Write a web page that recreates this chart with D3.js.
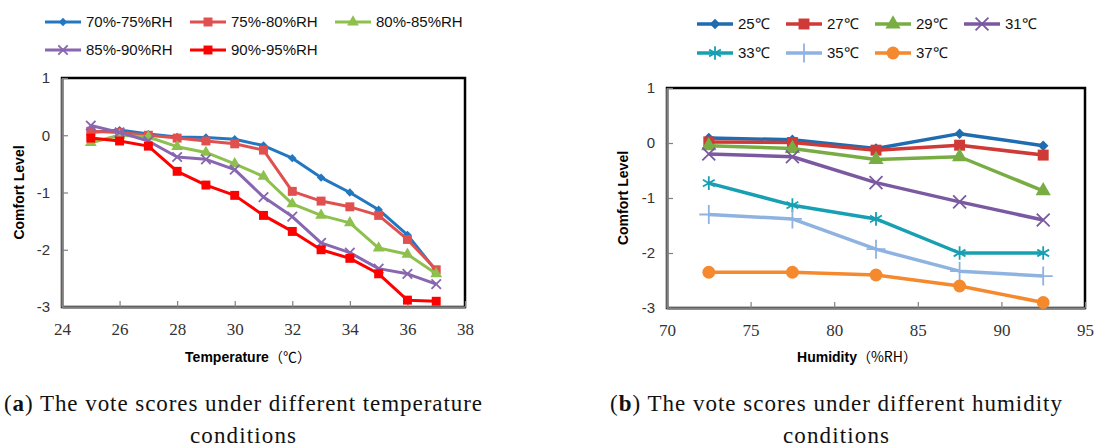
<!DOCTYPE html>
<html>
<head>
<meta charset="utf-8">
<script src="https://cdn.jsdelivr.net/npm/d3@7"></script>
<style>
  body { margin: 0; background: #fff; }
  svg { display: block; }
</style>
</head>
<body>
<div id="fig"></div>
<script>
// (a) comfort level vs temperature, one series per humidity band
const temps = [25, 26, 27, 28, 29, 30, 31, 32, 33, 34, 35, 36, 37];
const rhNames = ["70%-75%RH", "75%-80%RH", "80%-85%RH", "85%-90%RH", "90%-95%RH"];
const rh70_75 = [0.05, 0.09, 0.02, -0.03, -0.04, -0.07, -0.18, -0.40, -0.74, -1.00, -1.30, -1.74, -2.37];
const rh75_80 = [0.07, 0.05, 0.00, -0.05, -0.10, -0.15, -0.26, -0.98, -1.15, -1.25, -1.40, -1.82, -2.35];
const rh80_85 = [-0.13, 0.00, -0.03, -0.20, -0.30, -0.50, -0.72, -1.20, -1.40, -1.53, -1.97, -2.08, -2.42];
const rh85_90 = [0.17, 0.05, -0.10, -0.38, -0.42, -0.60, -1.08, -1.42, -1.88, -2.05, -2.33, -2.42, -2.60];
const rh90_95 = [-0.05, -0.10, -0.19, -0.63, -0.87, -1.05, -1.40, -1.68, -2.00, -2.15, -2.42, -2.88, -2.90];
const tempTicks = [24, 26, 28, 30, 32, 34, 36, 38];

// (b) comfort level vs humidity, one series per temperature
const humid = [72.5, 77.5, 82.5, 87.5, 92.5];
const tNames = ["25℃", "27℃", "29℃", "31℃", "33℃", "35℃", "37℃"];
const t25 = [0.09, 0.06, -0.10, 0.17, -0.05];
const t27 = [0.02, 0.01, -0.13, -0.04, -0.22];
const t29 = [-0.05, -0.10, -0.30, -0.25, -0.87];
const t31 = [-0.20, -0.25, -0.72, -1.07, -1.40];
const t33 = [-0.73, -1.13, -1.38, -2.00, -2.00];
const t35 = [-1.30, -1.38, -1.93, -2.33, -2.42];
const t37 = [-2.35, -2.35, -2.40, -2.60, -2.90];
const humTicks = [70, 75, 80, 85, 90, 95];

const levelTicks = [1, 0, -1, -2, -3];

const width = 1094, height = 448;

const svg = d3.select("#fig").append("svg")
    .attr("width", width)
    .attr("height", height);

const grey = "#808080";

function marker(g, type, color, size) {
    var sym, fill = color, stroke = "none", sw = 0;
    if (type == "diamond") sym = d3.symbolDiamond2;
    else if (type == "square") sym = d3.symbolSquare;
    else if (type == "triangle") sym = d3.symbolTriangle;
    else if (type == "circle") sym = d3.symbolCircle;
    else {
        fill = "none"; stroke = color; sw = 1.8;
        sym = type == "times" ? d3.symbolTimes : type == "plus" ? d3.symbolPlus : d3.symbolAsterisk;
    }
    return g.append("path")
        .attr("d", d3.symbol(sym, size)())
        .attr("fill", fill)
        .attr("stroke", stroke)
        .attr("stroke-width", sw);
}

function panel(opt) {
    const x = d3.scaleLinear().domain(opt.xDomain).range(opt.xRange);
    const y = d3.scaleLinear().domain([-3, 1]).range(opt.yRange);
    const g = svg.append("g");

    // plot area border (black top/right)
    g.append("rect")
        .attr("x", opt.xRange[0]).attr("y", opt.yRange[1])
        .attr("width", opt.xRange[1] - opt.xRange[0])
        .attr("height", opt.yRange[0] - opt.yRange[1])
        .attr("fill", "none")
        .attr("stroke", "#000")
        .attr("stroke-width", 2.5);

    // y axis, ticks pointing inward
    const ya = g.append("g")
        .attr("transform", `translate(${opt.xRange[0]},0)`)
        .call(d3.axisRight(y).tickValues(levelTicks).tickSize(6).tickSizeOuter(0).tickFormat(d3.format("d")));
    ya.select(".domain").attr("stroke", grey).attr("stroke-width", 2.5);
    ya.selectAll(".tick line").attr("stroke", grey).attr("stroke-width", 1.2);
    ya.selectAll(".tick text")
        .attr("x", -12).attr("text-anchor", "end")
        .attr("fill", "#333")
        .style("font", "15px 'Liberation Sans', sans-serif")
        .text(d => d < 0 ? "-" + (-d) : d);

    // x axis, ticks pointing inward
    const xa = g.append("g")
        .attr("transform", `translate(0,${opt.yRange[0]})`)
        .call(d3.axisTop(x).tickValues(opt.ticks).tickSize(6).tickSizeOuter(0));
    xa.select(".domain").attr("stroke", grey).attr("stroke-width", 2.5);
    xa.selectAll(".tick line").attr("stroke", grey).attr("stroke-width", 1.2);
    xa.selectAll(".tick text")
        .attr("y", 22).attr("dy", "0.35em")
        .attr("fill", "#333")
        .style("font", "17px 'Liberation Serif', serif");

    // lines + markers
    const line = d3.line().x(d => x(d[0])).y(d => y(d[1]));
    opt.series.forEach(function(s) {
        const pts = opt.xs.map((v, i) => [v, s.values[i]]);
        g.append("path")
            .datum(pts)
            .attr("d", line)
            .attr("fill", "none")
            .attr("stroke", s.color)
            .attr("stroke-width", opt.lineWidth)
            .attr("stroke-linejoin", "round");
        pts.forEach(function(p) {
            marker(g, s.marker, s.color, s.size)
                .attr("transform", `translate(${x(p[0])},${y(p[1])})`);
        });
    });

    // legend
    opt.series.forEach(function(s, i) {
        const col = i % opt.legendCols, row = Math.floor(i / opt.legendCols);
        const lx = opt.legendX + col * opt.legendDX, ly = opt.legendY + row * opt.legendDY;
        const lg = g.append("g").attr("transform", `translate(${lx},${ly})`);
        lg.append("line")
            .attr("x1", 0).attr("x2", 36)
            .attr("stroke", s.color)
            .attr("stroke-width", opt.lineWidth);
        marker(lg, s.marker, s.color, s.size).attr("transform", "translate(18,0)");
        lg.append("text")
            .attr("x", 41).attr("dy", "0.36em")
            .attr("fill", "#111")
            .style("font", "15px 'Liberation Sans', sans-serif")
            .text(s.name);
    });

    // axis titles
    const midY = (opt.yRange[0] + opt.yRange[1]) / 2;
    g.append("text")
        .attr("transform", `translate(${opt.yTitleX},${midY}) rotate(-90)`)
        .attr("text-anchor", "middle")
        .style("font", "bold 14px 'Liberation Sans', sans-serif")
        .text("Comfort Level");

    const xt = g.append("text")
        .attr("x", opt.xTitleX).attr("y", 362)
        .attr("text-anchor", "middle")
        .style("font", "bold 14px 'Liberation Sans', sans-serif");
    xt.append("tspan").text(opt.xTitle);
    xt.append("tspan").attr("font-weight", "normal")
        .style("font-family", "'Noto Sans CJK SC', sans-serif")
        .text(opt.xUnit);

    // caption (stretched to the wider book face of the original)
    const cap = g.append("text")
        .attr("x", opt.capX).attr("y", 411)
        .attr("text-anchor", "middle")
        .attr("textLength", opt.capWidth)
        .attr("lengthAdjust", "spacing")
        .style("font", "23px 'Liberation Serif', serif")
        .attr("fill", "#111");
    cap.append("tspan").text("(");
    cap.append("tspan").attr("font-weight", "bold").text(opt.capLetter);
    cap.append("tspan").text(") " + opt.capText);
    g.append("text")
        .attr("x", opt.capX).attr("y", 443)
        .attr("text-anchor", "middle")
        .attr("textLength", 106)
        .attr("lengthAdjust", "spacing")
        .style("font", "23px 'Liberation Serif', serif")
        .attr("fill", "#111")
        .text("conditions");
}

panel({
    xDomain: [24, 38], xRange: [62, 465], yRange: [307, 78],
    ticks: tempTicks, xs: temps, lineWidth: 3,
    series: [
        {name: rhNames[0], values: rh70_75, color: "#2277c0", marker: "diamond", size: 45},
        {name: rhNames[1], values: rh75_80, color: "#e0504e", marker: "square", size: 80},
        {name: rhNames[2], values: rh80_85, color: "#8dc04c", marker: "triangle", size: 60},
        {name: rhNames[3], values: rh85_90, color: "#8866b0", marker: "times", size: 60},
        {name: rhNames[4], values: rh90_95, color: "#ff0000", marker: "square", size: 80}
    ],
    legendX: 45, legendY: 22, legendCols: 3, legendDX: 145, legendDY: 28,
    yTitleX: 24, xTitleX: 248, xTitle: "Temperature", xUnit: "（℃）",
    capX: 243, capWidth: 478, capLetter: "a", capText: "The vote scores under different temperature"
});

panel({
    xDomain: [70, 95], xRange: [667, 1085], yRange: [308, 88],
    ticks: humTicks, xs: humid, lineWidth: 3.5,
    series: [
        {name: tNames[0], values: t25, color: "#1f6cb0", marker: "diamond", size: 70},
        {name: tNames[1], values: t27, color: "#cf3a36", marker: "square", size: 120},
        {name: tNames[2], values: t29, color: "#78ad43", marker: "triangle", size: 100},
        {name: tNames[3], values: t31, color: "#7b59a1", marker: "times", size: 110},
        {name: tNames[4], values: t33, color: "#17a0b2", marker: "asterisk", size: 130},
        {name: tNames[5], values: t35, color: "#8fb3e0", marker: "plus", size: 120},
        {name: tNames[6], values: t37, color: "#f5892e", marker: "circle", size: 130}
    ],
    legendX: 697, legendY: 24, legendCols: 4, legendDX: 89, legendDY: 29,
    yTitleX: 628, xTitleX: 857, xTitle: "Humidity", xUnit: "（%RH）",
    capX: 836, capWidth: 452, capLetter: "b", capText: "The vote scores under different humidity"
});
</script>
</body>
</html>
